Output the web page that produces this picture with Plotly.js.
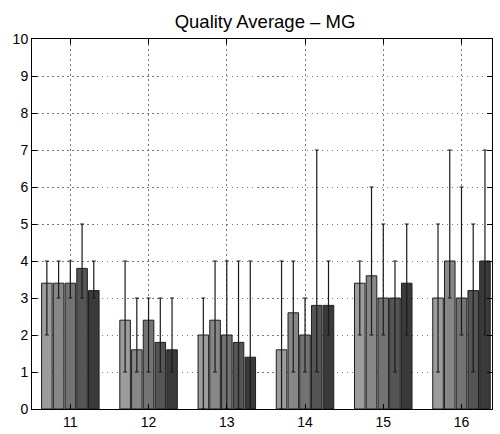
<!DOCTYPE html>
<html>
<head>
<meta charset="utf-8">
<script src="https://cdn.plot.ly/plotly-3.0.1.min.js"></script>
<style>
  html, body { margin: 0; padding: 0; background: #fff; }
  #chart { width: 500px; height: 434px; }
</style>
</head>
<body>
<div id="chart"></div>
<script>
// Categories on the x axis
var categories = [11, 12, 13, 14, 15, 16];

// Mean quality per series
var mean1 = [3.4, 2.4, 2.0, 1.6, 3.4, 3.0];
var mean2 = [3.4, 1.6, 2.4, 2.6, 3.6, 4.0];
var mean3 = [3.4, 2.4, 2.0, 2.0, 3.0, 3.0];
var mean4 = [3.8, 1.8, 1.8, 2.8, 3.0, 3.2];
var mean5 = [3.2, 1.6, 1.4, 2.8, 3.4, 4.0];

// Maximum score per series
var max1 = [4, 4, 3, 4, 4, 5];
var max2 = [4, 3, 4, 4, 6, 7];
var max3 = [4, 3, 4, 3, 5, 6];
var max4 = [5, 3, 4, 7, 4, 5];
var max5 = [4, 3, 4, 4, 5, 7];

// Minimum score per series
var min1 = [2, 1, 0, 0, 2, 1];
var min2 = [3, 1, 1, 1, 2, 3];
var min3 = [3, 1, 0, 1, 2, 2];
var min4 = [3, 1, 0, 1, 1, 1];
var min5 = [3, 1, 0, 2, 2, 2];

var yTicks = [0, 1, 2, 3, 4, 5, 6, 7, 8, 9, 10];

var series = [
  { y: mean1, hi: max1, lo: min1, color: '#9c9c9c' },
  { y: mean2, hi: max2, lo: min2, color: '#878787' },
  { y: mean3, hi: max3, lo: min3, color: '#737373' },
  { y: mean4, hi: max4, lo: min4, color: '#555555' },
  { y: mean5, hi: max5, lo: min5, color: '#3a3a3a' }
];

var traces = series.map(function (s) {
  return {
    type: 'bar',
    x: categories,
    y: s.y,
    marker: { color: s.color, line: { color: '#1e1e1e', width: 1 } },
    error_y: {
      type: 'data',
      symmetric: false,
      array: s.hi.map(function (h, i) { return h - s.y[i]; }),
      arrayminus: s.lo.map(function (l, i) { return s.y[i] - l; }),
      color: '#1a1a1a',
      thickness: 1.2,
      width: 2
    },
    showlegend: false,
    hoverinfo: 'skip'
  };
});

var axisFont = { family: '"Liberation Sans", Arial, sans-serif', size: 14, color: '#000' };

var layout = {
  width: 500,
  height: 434,
  margin: { l: 32, r: 8, t: 39, b: 25 },
  paper_bgcolor: '#fff',
  plot_bgcolor: '#fff',
  barmode: 'group',
  bargap: 0.25,
  bargroupgap: 0.1,
  title: {
    text: 'Quality Average \u2013 MG',
    font: { family: '"Liberation Sans", Arial, sans-serif', size: 18.5, color: '#000' },
    x: 0.53, xanchor: 'center',
    y: 0.95, yanchor: 'middle'
  },
  xaxis: {
    range: [10.51, 16.39],
    tickmode: 'array',
    tickvals: categories,
    ticktext: categories.map(String),
    ticks: 'inside',
    ticklen: 5,
    tickcolor: '#000',
    showline: true,
    linecolor: '#000',
    linewidth: 1,
    mirror: 'ticks',
    showgrid: true,
    gridcolor: '#777',
    griddash: '1.5px,3.5px',
    gridwidth: 1,
    zeroline: false,
    tickfont: axisFont
  },
  yaxis: {
    range: [0, 10],
    tickmode: 'array',
    tickvals: yTicks,
    ticktext: yTicks.map(String),
    ticks: 'inside',
    ticklen: 5,
    tickcolor: '#000',
    showline: true,
    linecolor: '#000',
    linewidth: 1,
    mirror: 'ticks',
    showgrid: true,
    gridcolor: '#777',
    griddash: '1.5px,3.5px',
    gridwidth: 1,
    zeroline: false,
    tickfont: axisFont
  }
};

Plotly.newPlot('chart', traces, layout, { displayModeBar: false, staticPlot: true });
</script>
</body>
</html>
